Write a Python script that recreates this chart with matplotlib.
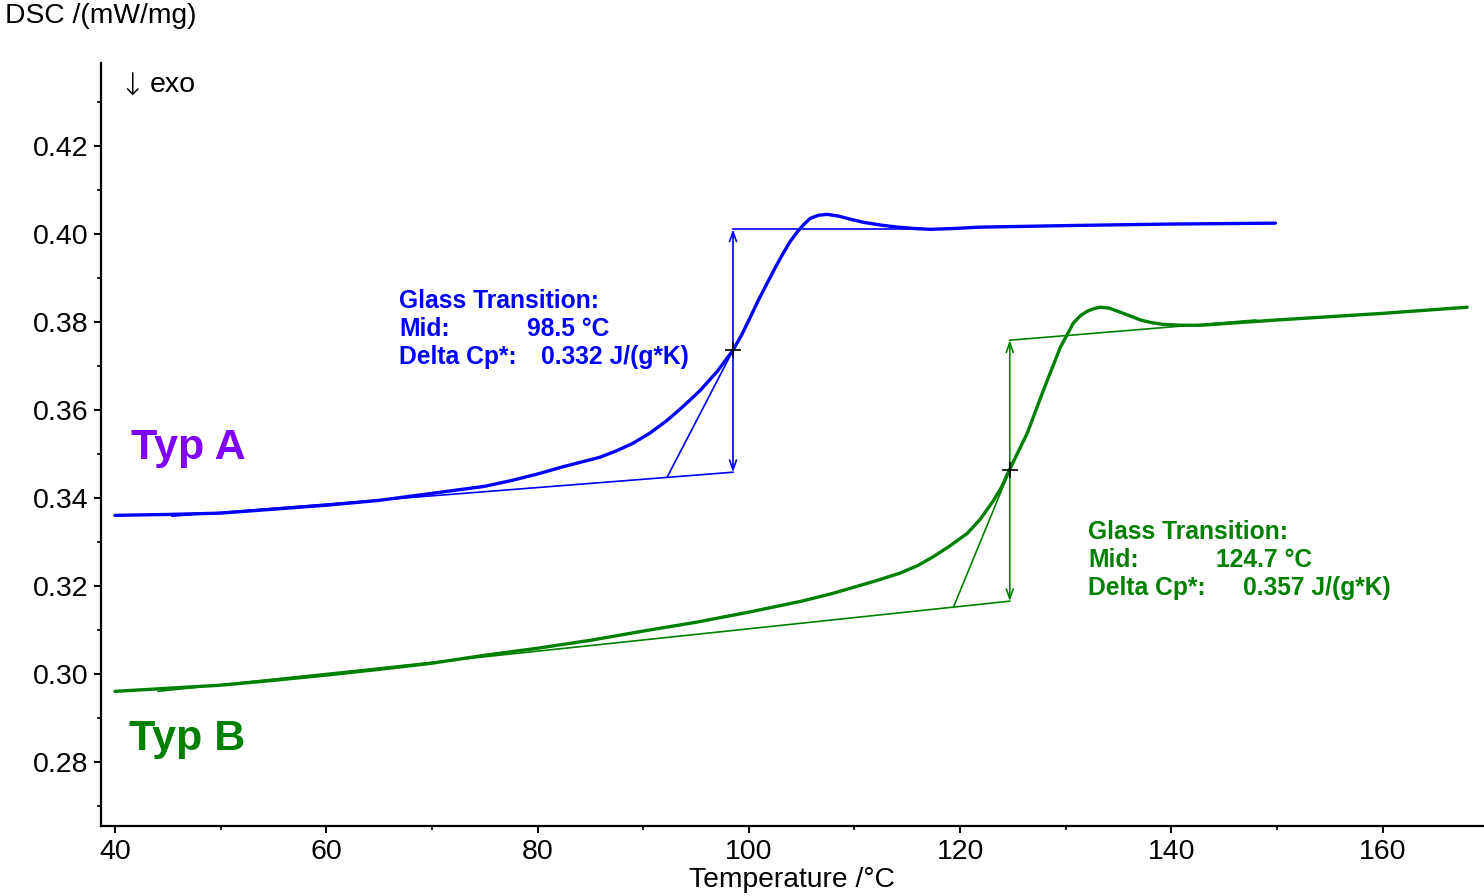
import matplotlib
matplotlib.use("Agg")
import matplotlib.pyplot as plt
from matplotlib.ticker import MultipleLocator

plt.rcParams['font.family'] = ['Liberation Sans', 'DejaVu Sans']

# ---- Data: Typ A (blue) ----
temp_a = [40, 45, 50, 55, 60, 65, 70, 75, 77.5, 80, 82.5, 85.9, 87.5, 89.05, 90.7,
          92.27, 93.8, 95.4, 97.0, 98.43, 99.3, 100.13, 100.9, 101.74, 102.5, 103.26,
          103.9, 104.58, 105.2, 105.81, 106.6, 107.42, 108.5, 109.6, 110.83, 112.4,
          114.05, 115.6, 117.18, 119.5, 121.9, 131.4, 140, 149.85]
dsc_a = [0.3361, 0.3363, 0.3366, 0.3375, 0.3384, 0.3395, 0.3411, 0.3427, 0.3440,
         0.3455, 0.3472, 0.3493, 0.3508, 0.3525, 0.3549, 0.3577, 0.3609, 0.3645,
         0.3688, 0.3734, 0.3770, 0.3811, 0.3850, 0.3889, 0.3924, 0.3957, 0.3983,
         0.4005, 0.4022, 0.4036, 0.4043, 0.4045, 0.4041, 0.4034, 0.4027, 0.4021,
         0.4016, 0.4013, 0.4011, 0.4013, 0.4016, 0.4020, 0.4023, 0.4025]

# ---- Data: Typ B (green) ----
temp_b = [40, 45, 50, 55, 60, 65, 70, 75, 80, 85, 90, 95, 100, 105, 108, 110, 112,
          114.34, 116, 117.46, 119, 120.68, 121.9, 123.14, 123.9, 124.56, 126.36,
          127.88, 129.49, 130.72, 131.4, 132.05, 132.7, 133.28, 134.1, 134.89, 135.9,
          137.07, 138.1, 139.24, 141, 142.75, 150, 160, 168]
dsc_b = [0.2961, 0.2968, 0.2975, 0.2986, 0.2998, 0.3011, 0.3025, 0.3043, 0.3059,
         0.3077, 0.3098, 0.3118, 0.3141, 0.3166, 0.3184, 0.3198, 0.3212, 0.3230,
         0.3247, 0.3267, 0.3291, 0.3320, 0.3352, 0.3394, 0.3424, 0.3459, 0.3548,
         0.3645, 0.3743, 0.3798, 0.3815, 0.3825, 0.3831, 0.3834, 0.3832, 0.3825,
         0.3816, 0.3805, 0.3799, 0.3795, 0.3793, 0.3793, 0.3805, 0.3820, 0.3834]

# ---- Glass transition evaluations ----
mid_a = 98.5
mid_a_val = 0.3736
base_low_a_t = [45.4, 98.5]
base_low_a_v = [0.3359, 0.3459]
base_up_a_t = [98.5, 118.0]
base_up_a_v = [0.4011, 0.4011]
tang_a_t = [92.27, 98.5]
tang_a_v = [0.3448, 0.3736]

mid_b = 124.7
mid_b_val = 0.3463
base_low_b_t = [44.07, 124.7]
base_low_b_v = [0.2961, 0.3166]
base_up_b_t = [124.7, 148.0]
base_up_b_v = [0.3759, 0.3805]
tang_b_t = [119.36, 124.7]
tang_b_v = [0.3152, 0.3463]

x_ticks = [40, 60, 80, 100, 120, 140, 160]
y_ticks = [0.28, 0.30, 0.32, 0.34, 0.36, 0.38, 0.40, 0.42]

BLUE = '#0000ff'
GREEN = '#008000'
PURPLE = '#7f00ff'

fig = plt.figure(figsize=(14.84, 8.96), dpi=100)
ax = fig.add_axes([101/1484, 1-826/896, (1483-101)/1484, (826-63)/896])

ax.set_xlim(38.67, 169.5)
ax.set_ylim(0.2655, 0.4389)

# curves
ax.plot(temp_a, dsc_a, color=BLUE, lw=2.4, solid_capstyle='round',
        solid_joinstyle='round', zorder=3)
ax.plot(temp_b, dsc_b, color=GREEN, lw=2.4, solid_capstyle='round',
        solid_joinstyle='round', zorder=3)

# evaluation lines
for t, v, c in [(base_low_a_t, base_low_a_v, BLUE), (base_up_a_t, base_up_a_v, BLUE),
                (tang_a_t, tang_a_v, BLUE), (base_low_b_t, base_low_b_v, GREEN),
                (base_up_b_t, base_up_b_v, GREEN), (tang_b_t, tang_b_v, GREEN)]:
    ax.plot(t, v, color=c, lw=1.2, zorder=2)

# double arrows
for x, y0, y1, c in [(mid_a, base_low_a_v[1], base_up_a_v[0], BLUE),
                     (mid_b, base_low_b_v[1], base_up_b_v[0], GREEN)]:
    ax.annotate('', xy=(x, y1), xytext=(x, y0),
                arrowprops=dict(arrowstyle='<->,head_length=0.7,head_width=0.25',
                                color=c, lw=1.2, shrinkA=0, shrinkB=0), zorder=2)

# midpoint markers
ax.plot([mid_a, mid_b], [mid_a_val, mid_b_val], linestyle='none', marker='+',
        color='black', markersize=12, mew=1.2, zorder=4)

# annotations
tf = dict(fontsize=17.7, fontweight='bold', va='center', ha='left')
ax.text(66.89, 0.3848, 'Glass Transition:', color=BLUE, **tf)
ax.text(66.89, 0.3784, 'Mid:', color=BLUE, **tf)
ax.text(79.02, 0.3784, '98.5 °C', color=BLUE, **tf)
ax.text(66.89, 0.3720, 'Delta Cp*:', color=BLUE, **tf)
ax.text(80.34, 0.3720, '0.332 J/(g*K)', color=BLUE, **tf)

ax.text(132.14, 0.3323, 'Glass Transition:', color=GREEN, **tf)
ax.text(132.14, 0.3259, 'Mid:', color=GREEN, **tf)
ax.text(144.26, 0.3259, '124.7 °C', color=GREEN, **tf)
ax.text(132.14, 0.3195, 'Delta Cp*:', color=GREEN, **tf)
ax.text(146.82, 0.3195, '0.357 J/(g*K)', color=GREEN, **tf)

ax.text(41.52, 0.3514, 'Typ A', color=PURPLE, fontsize=31, fontweight='bold',
        va='center', ha='left')
ax.text(41.33, 0.2852, 'Typ B', color=GREEN, fontsize=31, fontweight='bold',
        va='center', ha='left')
ax.text(40.45, 0.4335, '↓', color='black', fontsize=22, va='center', ha='left',
        family=['DejaVu Sans'], fontweight='light')
ax.text(43.31, 0.4339, 'exo', color='black', fontsize=20.5, va='center', ha='left')

# axes styling
for s in ['top', 'right']:
    ax.spines[s].set_visible(False)
for s in ['left', 'bottom']:
    ax.spines[s].set_linewidth(1.6)

ax.set_xticks(x_ticks)
ax.set_yticks(y_ticks)
ax.set_xticklabels([str(v) for v in x_ticks])
ax.set_yticklabels([f'{v:.2f}' for v in y_ticks])
ax.xaxis.set_minor_locator(MultipleLocator(10))
ax.yaxis.set_minor_locator(MultipleLocator(0.01))
ax.tick_params(which='major', direction='out', length=5, width=1.4, labelsize=20.5, pad=4)
ax.tick_params(which='minor', direction='out', length=3, width=1.2)

fig.text(5/1484, 1-16/896, 'DSC /(mW/mg)', fontsize=20.3, ha='left', va='center')
fig.text(792/1484, 1-880/896, 'Temperature /°C', fontsize=20.3, ha='center', va='center')

fig.savefig('out.png', dpi=100)
